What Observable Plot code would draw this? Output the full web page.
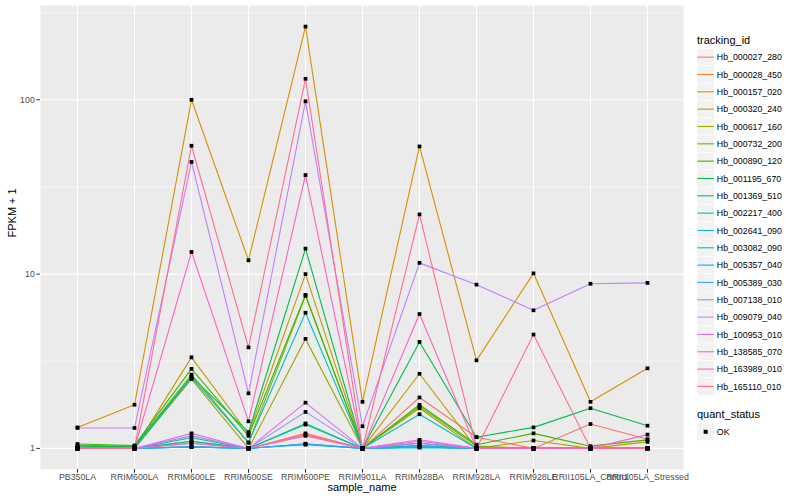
<!DOCTYPE html>
<html><head><meta charset="utf-8">
<script src="https://cdn.jsdelivr.net/npm/d3@7"></script>
<script src="https://cdn.jsdelivr.net/npm/@observablehq/plot@0.6"></script>
<style>
body{margin:0;background:#fff;font-family:"Liberation Sans",Arial,Helvetica,sans-serif;}
#wrap{position:relative;width:800px;height:500px;overflow:hidden;}
#chart{position:absolute;left:0;top:0;}
#legend{position:absolute;left:690px;top:0;}
</style></head><body>
<div id="wrap"><div id="chart"></div><div id="legend"></div></div>
<script>
const categories = ["PB350LA","RRIM600LA","RRIM600LE","RRIM600SE","RRIM600PE","RRIM901LA","RRIM928BA","RRIM928LA","RRIM928LE","RRII105LA_Control","RRII105LA_Stressed"];
const trackingIds = ["Hb_000027_280","Hb_000028_450","Hb_000157_020","Hb_000320_240","Hb_000617_160","Hb_000732_200","Hb_000890_120","Hb_001195_670","Hb_001369_510","Hb_002217_400","Hb_002641_090","Hb_003082_090","Hb_005357_040","Hb_005389_030","Hb_007138_010","Hb_009079_040","Hb_100953_010","Hb_138585_070","Hb_163989_010","Hb_165110_010"];
const palette = ["#F8766D","#EA8331","#D89000","#C09B00","#A3A500","#7CAE00","#39B600","#00BB4E","#00BF7D","#00C1A3","#00BFC4","#00BAE0","#00B0F6","#35A2FF","#9590FF","#C77CFF","#E76BF3","#FA62DB","#FF62BC","#FF6C91"];
const yTicks = [1, 10, 100];
const yMinorTicks = [3.1623, 31.623, 316.23];
const quantStatus = ["OK"];

// FPKM + 1 per series, in category order
const hb_000027_280 = [1, 1, 1.10, 1.00, 1.18, 1, 1.96, 1.16, 1.00, 1.38, 1.13];
const hb_000028_450 = [1, 1, 1.07, 1.00, 1.22, 1, 1.04, 1.00, 1.00, 1.00, 1.00];
const hb_000157_020 = [1.32, 1.78, 100, 12.0, 263, 1.85, 54, 3.2, 10.1, 1.85, 2.88];
const hb_000320_240 = [1, 1, 3.33, 1.21, 10.0, 1, 2.68, 1.00, 1.11, 1.00, 1.09];
const hb_000617_160 = [1, 1, 2.50, 1.00, 4.25, 1, 1.70, 1.00, 1.00, 1.00, 1.00];
const hb_000732_200 = [1.04, 1.03, 2.65, 1.08, 7.5, 1, 1.74, 1.03, 1.00, 1.00, 1.00];
const hb_000890_120 = [1.06, 1.04, 2.86, 1.18, 7.6, 1, 1.78, 1.05, 1.22, 1.03, 1.12];
const hb_001195_670 = [1.03, 1.02, 2.58, 1.24, 14.0, 1, 4.08, 1.16, 1.32, 1.70, 1.35];
const hb_001369_510 = [1, 1, 1.10, 1.00, 1.39, 1, 1.07, 1.00, 1.00, 1.00, 1.00];
const hb_002217_400 = [1, 1, 1.15, 1.00, 1.37, 1, 1.04, 1.00, 1.00, 1.00, 1.00];
const hb_002641_090 = [1, 1, 2.55, 1.08, 6.0, 1, 1.57, 1.00, 1.00, 1.00, 1.00];
const hb_003082_090 = [1, 1, 1.02, 1.00, 1.05, 1, 1.01, 1.00, 1.00, 1.00, 1.00];
const hb_005357_040 = [1, 1, 1.02, 1.00, 1.064, 1, 1.02, 1.00, 1.00, 1.00, 1.00];
const hb_005389_030 = [1, 1, 1.02, 1.00, 1.06, 1, 1.02, 1.00, 1.00, 1.00, 1.00];
const hb_007138_010 = [1, 1, 1.18, 1.00, 1.62, 1, 1.07, 1.00, 1.00, 1.00, 1.00];
const hb_009079_040 = [1.31, 1.31, 44, 2.07, 98, 1.34, 11.6, 8.7, 6.2, 8.8, 8.9];
const hb_100953_010 = [1, 1, 1.22, 1.00, 1.83, 1, 1.12, 1.00, 1.00, 1.00, 1.00];
const hb_138585_070 = [1, 1, 1.07, 1.00, 1.20, 1, 1.10, 1.00, 1.00, 1.00, 1.20];
const hb_163989_010 = [1, 1, 13.4, 1.43, 37, 1, 5.9, 1.00, 1.00, 1.00, 1.00];
const hb_165110_010 = [1, 1, 54.5, 3.8, 132, 1, 22, 1.00, 4.5, 1.00, 1.00];

const seriesValues = [hb_000027_280, hb_000028_450, hb_000157_020, hb_000320_240, hb_000617_160, hb_000732_200, hb_000890_120, hb_001195_670, hb_001369_510, hb_002217_400, hb_002641_090, hb_003082_090, hb_005357_040, hb_005389_030, hb_007138_010, hb_009079_040, hb_100953_010, hb_138585_070, hb_163989_010, hb_165110_010];

const rows = [];
trackingIds.forEach((id, i) => {
  seriesValues[i].forEach((v, j) => rows.push({tracking_id: id, sample_name: categories[j], fpkm1: v, quant_status: quantStatus[0]}));
});

const maxV = d3.max(rows, d => d.fpkm1), minV = d3.min(rows, d => d.fpkm1);
const lo = Math.log10(minV), hi = Math.log10(maxV), ex = (hi - lo) * 0.05;

const chart = Plot.plot({
  width: 690, height: 500,
  marginLeft: 40, marginRight: 7, marginTop: 5, marginBottom: 31,
  style: {fontFamily: "'Liberation Sans', Arial, Helvetica, sans-serif", background: "transparent", overflow: "visible"},
  x: {type: "point", domain: categories, padding: 0.6},
  y: {type: "log", domain: [Math.pow(10, lo - ex), Math.pow(10, hi + ex)]},
  color: {domain: trackingIds, range: palette},
  marks: [
    Plot.frame({fill: "#EBEBEB", stroke: "none"}),
    Plot.gridY(yMinorTicks, {stroke: "#fff", strokeOpacity: 1, strokeWidth: 0.55}),
    Plot.gridY(yTicks, {stroke: "#fff", strokeOpacity: 1, strokeWidth: 1.07}),
    Plot.gridX({stroke: "#fff", strokeOpacity: 1, strokeWidth: 1.07}),
    Plot.axisY(yTicks, {tickSize: 3.7, tickPadding: 2, stroke: "#333", fill: "#4D4D4D", fontSize: 8.8, tickFormat: d => String(d), label: null}),
    Plot.axisX({tickSize: 3.7, tickPadding: 0.5, stroke: "#333", fill: "#4D4D4D", fontSize: 8.8, label: null}),
    Plot.line(rows, {x: "sample_name", y: "fpkm1", z: "tracking_id", stroke: "tracking_id", strokeWidth: 1.1}),
    Plot.dot(rows, {x: "sample_name", y: "fpkm1", symbol: "square", fill: "black", r: 2.1}),
    Plot.text(["FPKM + 1"], {frameAnchor: "left", dx: -28, rotate: -90, fontSize: 11, fill: "black"}),
    Plot.text(["sample_name"], {frameAnchor: "bottom", dy: 21.5, fontSize: 11, fill: "black"})
  ]
});
document.getElementById("chart").appendChild(chart);

// legend (SVG)
const step = 17.33, key0 = 48.5, kx = 7, ks = 17.33;
const svg = d3.select("#legend").append("svg")
  .attr("width", 110).attr("height", 500)
  .style("font-family", "'Liberation Sans', Arial, Helvetica, sans-serif");
svg.append("text").attr("x", kx).attr("y", key0 - 5).attr("font-size", 11).attr("fill", "#000").text("tracking_id");
trackingIds.forEach((id, i) => {
  const top = key0 + i * step;
  svg.append("rect").attr("x", kx).attr("y", top).attr("width", ks).attr("height", ks)
    .attr("fill", "#F2F2F2").attr("stroke", "#fff").attr("stroke-width", 0.5);
  svg.append("line").attr("x1", kx + 0.5).attr("x2", kx + ks - 0.5).attr("y1", top + ks / 2).attr("y2", top + ks / 2)
    .attr("stroke", palette[i]).attr("stroke-width", 1.1);
  svg.append("text").attr("x", kx + ks + 2.5).attr("y", top + ks / 2).attr("dy", "0.35em")
    .attr("font-size", 8.8).attr("fill", "#000").text(id);
});
const q0 = key0 + trackingIds.length * step + 28;
svg.append("text").attr("x", kx).attr("y", q0 - 5).attr("font-size", 11).attr("fill", "#000").text("quant_status");
quantStatus.forEach((s, i) => {
  const top = q0 + i * step;
  svg.append("rect").attr("x", kx).attr("y", top).attr("width", ks).attr("height", ks)
    .attr("fill", "#F2F2F2").attr("stroke", "#fff").attr("stroke-width", 0.5);
  svg.append("rect").attr("x", kx + ks / 2 - 2).attr("y", top + ks / 2 - 2).attr("width", 4).attr("height", 4).attr("fill", "#000");
  svg.append("text").attr("x", kx + ks + 2.5).attr("y", top + ks / 2).attr("dy", "0.35em")
    .attr("font-size", 8.8).attr("fill", "#000").text(s);
});
</script>
</body></html>
